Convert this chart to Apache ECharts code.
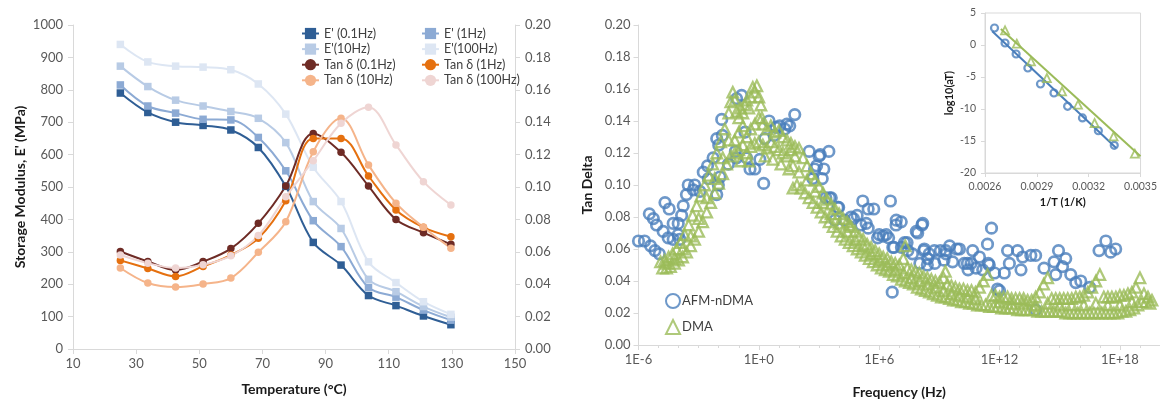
<!DOCTYPE html>
<html><head><meta charset="utf-8">
<script src="https://cdn.jsdelivr.net/npm/echarts@6/dist/echarts.min.js"></script>
<style>html,body{margin:0;padding:0;background:#fff}#c{width:1160px;height:404px}</style>
</head><body><div id="c"></div>
<script>
// ---------- Left chart: temperature sweep ----------
const temps = [25, 33.7, 42.5, 51.2, 60, 68.7, 77.4, 86.1, 94.9, 103.6, 112.3, 121, 129.7];
const ePrime01  = [790, 730, 700, 690, 676, 622, 502, 329, 259, 165, 134, 102, 75];
const ePrime1   = [815, 750, 728, 709, 707, 653, 550, 396, 316, 190, 160, 120, 89];
const ePrime10  = [873, 810, 768, 750, 733, 712, 637, 455, 372, 215, 177, 131, 98];
const ePrime100 = [940, 886, 873, 870, 862, 818, 725, 561, 455, 269, 205, 146, 107];
const tanD01  = [0.0602, 0.054, 0.0488, 0.054, 0.062, 0.0776, 0.1006, 0.1331, 0.1214, 0.1006, 0.080, 0.0718, 0.0646];
const tanD1   = [0.0547, 0.0497, 0.0448, 0.051, 0.058, 0.0683, 0.0915, 0.130, 0.130, 0.1068, 0.0858, 0.0751, 0.0693];
const tanD10  = [0.050, 0.0407, 0.0382, 0.0401, 0.0438, 0.0597, 0.0786, 0.1218, 0.1424, 0.1136, 0.090, 0.0751, 0.0622];
const tanD100 = [0.058, 0.053, 0.050, 0.052, 0.0575, 0.070, 0.094, 0.1162, 0.1393, 0.1492, 0.126, 0.1033, 0.0889];
const tempTicks = [10, 150, 20];

// ---------- Right chart: master curve, [log10(frequency / Hz), tan delta] ----------
const afmPoints = [
 [-6.0,0.065],[-5.7,0.065],[-5.4,0.062],[-5.18,0.059],[-4.96,0.057],
 [-5.46,0.082],[-5.26,0.079],[-5.1,0.075],[-4.77,0.071],[-4.68,0.089],[-4.47,0.085],[-4.27,0.076],
 [-4.52,0.067],[-4.27,0.066],[-4.02,0.069],[-3.94,0.066],[-4.02,0.076],[-3.85,0.081],[-3.77,0.087],
 [-3.61,0.094],[-3.52,0.1],[-3.27,0.097],[-3.2,0.1],[-2.94,0.096],[-2.77,0.108],[-2.52,0.104],[-2.56,0.112],
 [-2.28,0.117],[-2.1,0.094],[-2.02,0.1],[-1.94,0.105],[-2.0,0.125],[-2.1,0.129],[-1.82,0.131],[-1.85,0.141],
 [-1.52,0.113],[-1.17,0.121],[-1.11,0.117],[-0.61,0.117],[-0.44,0.11],[-0.2,0.11],[0.05,0.116],[0.24,0.101],
 [-0.86,0.156],[-1.11,0.154],[-0.69,0.133],[0.3,0.129],[0.51,0.14],[0.76,0.131],[0.85,0.136],[1.04,0.137],
 [1.29,0.135],[1.4,0.138],[1.54,0.137],[1.79,0.144],
 [2.51,0.121],[3.0,0.118],[3.06,0.119],[3.49,0.121],[2.88,0.112],[3.24,0.11],[2.78,0.11],[3.16,0.104],
 [2.69,0.104],[3.34,0.092],[3.61,0.092],[3.53,0.092],[3.94,0.086],[3.98,0.086],[3.8,0.078],[4.26,0.078],
 [4.6,0.08],[4.72,0.079],[4.9,0.081],[5.18,0.09],[5.45,0.085],[5.73,0.085],[5.09,0.075],[5.35,0.076],
 [5.45,0.073],[5.92,0.067],[6.0,0.069],[6.2,0.068],[6.35,0.069],[6.47,0.067],[6.56,0.09],[6.84,0.075],
 [6.85,0.078],[7.1,0.077],[6.74,0.061],[6.68,0.061],[7.11,0.061],[7.26,0.064],[7.39,0.064],[7.43,0.059],
 [7.85,0.071],[7.92,0.07],[8.13,0.075],[8.17,0.076],[7.66,0.057],[8.22,0.059],[8.25,0.06],[8.49,0.057],
 [8.75,0.059],[9.05,0.059],[9.32,0.059],[9.33,0.057],[9.51,0.062],[9.87,0.06],[8.77,0.051],[9.23,0.053],
 [8.42,0.054],[8.4,0.05],[8.03,0.051],[9.66,0.052],[6.65,0.033],
 [10.0,0.06],[10.66,0.059],[10.58,0.051],[10.24,0.051],[10.4,0.051],[10.43,0.047],[10.83,0.048],[11.0,0.055],
 [11.16,0.047],[11.4,0.063],[11.6,0.073],[11.44,0.051],[11.49,0.05],[11.75,0.045],[11.9,0.035],[12.0,0.034],
 [12.24,0.045],[12.4,0.059],[12.49,0.051],[12.9,0.059],[13.07,0.047],[13.15,0.055],[13.56,0.056],[13.8,0.056],
 [13.8,0.022],[14.22,0.048],[14.72,0.052],[14.8,0.044],[14.94,0.059],[15.14,0.049],[15.3,0.054],[15.55,0.044],
 [15.8,0.039],[16.05,0.04],[16.5,0.036],[16.96,0.059],[17.3,0.065],[17.54,0.058],[17.79,0.06]
];
const dmaPoints = [
 // rising limb
 [-4.9,0.052],[-4.7,0.053],[-4.5,0.055],[-4.3,0.057],[-4.1,0.06],[-3.9,0.064],[-3.7,0.069],[-3.5,0.075],
 [-3.3,0.081],[-3.1,0.087],[-2.9,0.093],[-2.7,0.1],[-2.5,0.106],[-2.3,0.113],[-2.1,0.12],[-1.9,0.127],
 [-1.7,0.135],[-1.5,0.145],
 [-4.8,0.048],[-4.6,0.048],[-4.4,0.049],[-4.2,0.051],[-4.0,0.053],[-3.8,0.055],[-3.6,0.058],[-3.4,0.062],
 [-3.2,0.066],[-3.0,0.071],[-2.8,0.077],[-2.6,0.083],[-2.4,0.089],[-2.2,0.095],[-2.0,0.101],[-1.8,0.107],
 [-1.6,0.113],[-1.4,0.118],
 [-4.6,0.051],[-4.2,0.054],[-3.8,0.06],[-3.4,0.068],[-3.0,0.079],[-2.6,0.092],[-2.2,0.104],[-1.8,0.117],[-1.5,0.128],
 // peak
 [-1.4,0.152],[-1.3,0.158],[-1.2,0.153],[-1.1,0.146],[-1.0,0.142],[-0.9,0.148],[-0.8,0.145],[-0.7,0.15],
 [-0.6,0.153],[-0.5,0.148],[-0.4,0.155],[-0.3,0.161],[-0.2,0.158],[-0.1,0.162],[0.0,0.155],[0.1,0.15],[0.15,0.142],
 [-1.2,0.128],[-1.0,0.133],[-0.8,0.137],[-0.6,0.13],[-0.4,0.135],[-0.2,0.138],[0.0,0.142],[0.2,0.138],
 [0.4,0.135],[0.6,0.137],[0.8,0.133],[1.0,0.134],[1.2,0.13],[1.4,0.128],
 [-1.2,0.12],[-1.0,0.122],[-0.8,0.125],[-0.6,0.12],[-0.4,0.124],[-0.2,0.126],[0.0,0.127],[0.2,0.125],
 [0.4,0.123],[0.6,0.127],[0.8,0.124],[1.0,0.122],[1.2,0.12],[1.4,0.118],[1.6,0.122],[1.8,0.118],
 [-0.9,0.115],[-0.5,0.115],[0.3,0.118],[0.7,0.116],[1.1,0.113],[1.5,0.11],[1.7,0.112],
 // descending limb
 [1.6,0.126],[1.8,0.124],[2.0,0.123],[2.2,0.117],[2.4,0.112],[2.6,0.107],[2.8,0.103],[3.0,0.099],
 [3.2,0.095],[3.4,0.091],[3.6,0.088],[3.8,0.085],[4.0,0.082],[4.2,0.079],[4.4,0.077],[4.5,0.075],
 [4.6,0.074],[4.8,0.071],[5.0,0.068],[5.2,0.066],[5.4,0.063],[5.6,0.061],[5.8,0.059],[6.0,0.057],
 [6.2,0.055],[6.4,0.054],[6.6,0.052],[6.8,0.051],[7.0,0.05],[7.2,0.054],[7.3,0.062],[7.4,0.048],
 [7.6,0.047],[7.8,0.046],[8.0,0.045],[8.2,0.043],[8.4,0.042],[8.6,0.041],[8.8,0.04],[9.0,0.039],
 [9.2,0.042],[9.3,0.046],[9.4,0.038],[9.6,0.037],[9.8,0.036],[10.0,0.035],[10.2,0.035],[10.4,0.034],
 [10.6,0.034],[10.8,0.033],[11.0,0.036],[11.2,0.04],[11.4,0.044],
 [1.7,0.098],[1.9,0.1],[2.1,0.098],[2.3,0.095],[2.5,0.092],[2.7,0.089],[2.9,0.086],[3.1,0.083],
 [3.3,0.08],[3.5,0.077],[3.7,0.074],[3.9,0.071],[4.1,0.068],[4.3,0.066],[4.5,0.064],[4.7,0.062],
 [4.9,0.06],[5.1,0.058],[5.3,0.056],[5.5,0.054],[5.7,0.052],[5.9,0.05],[6.1,0.048],[6.3,0.047],
 [6.5,0.046],[6.7,0.044],[6.9,0.043],[7.1,0.041],[7.3,0.04],[7.5,0.039],[7.7,0.038],[7.9,0.036],
 [8.1,0.035],[8.3,0.034],[8.5,0.033],[8.7,0.032],[8.9,0.031],[9.1,0.03],[9.3,0.03],[9.5,0.029],
 [9.7,0.028],[9.9,0.028],[10.1,0.027],[10.3,0.027],[10.5,0.026],[10.7,0.026],[10.9,0.025],
 [2.0,0.108],[2.4,0.103],[2.8,0.096],[3.2,0.089],[3.6,0.082],[4.0,0.076],[4.4,0.071],[4.8,0.066],
 [5.2,0.062],[5.6,0.057],[6.0,0.053],[6.4,0.05],[6.8,0.047],[7.2,0.045],[7.6,0.042],[8.0,0.04],
 [8.4,0.038],[8.8,0.036],[9.2,0.034],[9.6,0.032],[10.0,0.031],[10.4,0.03],[10.8,0.029],
 // high-frequency tail
 [11.6,0.031],[11.8,0.031],[12.0,0.03],[12.2,0.03],[12.4,0.03],[12.6,0.029],[12.8,0.029],[13.0,0.029],
 [13.2,0.029],[13.4,0.028],[13.6,0.028],[13.8,0.03],[14.0,0.033],[14.2,0.038],[14.4,0.042],[14.6,0.029],
 [14.8,0.029],[15.0,0.029],[15.2,0.029],[15.4,0.029],[15.6,0.029],[15.8,0.03],[16.0,0.03],[16.2,0.031],
 [16.4,0.033],[16.6,0.036],[16.8,0.04],[17.0,0.044],[17.2,0.03],[17.4,0.03],[17.6,0.03],[17.8,0.03],
 [18.0,0.031],[18.2,0.031],[18.4,0.032],[18.6,0.033],[18.8,0.036],[19.0,0.042],[19.2,0.032],[19.4,0.03],[19.6,0.028],
 [11.1,0.025],[11.3,0.025],[11.5,0.024],[11.7,0.024],[11.9,0.024],[12.1,0.023],[12.3,0.023],[12.5,0.023],
 [12.7,0.023],[12.9,0.022],[13.1,0.022],[13.3,0.022],[13.5,0.022],[13.7,0.022],[13.9,0.021],[14.1,0.021],
 [14.3,0.021],[14.5,0.021],[14.7,0.021],[14.9,0.021],[15.1,0.021],[15.3,0.02],[15.5,0.02],[15.7,0.02],
 [15.9,0.02],[16.1,0.02],[16.3,0.02],[16.5,0.02],[16.7,0.02],[16.9,0.02],[17.1,0.02],[17.3,0.02],
 [17.5,0.02],[17.7,0.02],[17.9,0.02],[18.1,0.021],[18.3,0.021],[18.5,0.022],[18.7,0.023],[18.9,0.025],
 [19.1,0.027],[19.3,0.027],[19.5,0.026],
 [12.0,0.027],[12.6,0.026],[13.2,0.026],[13.8,0.025],[14.4,0.026],[15.0,0.025],[15.6,0.025],[16.2,0.025],
 [16.8,0.026],[17.4,0.025],[18.0,0.025],[18.6,0.027]
];
const freqExpTicks = [-6, 20, 6];

// ---------- Inset: shift factors ----------
const invTAfm = [0.002655, 0.002716, 0.00278, 0.002848, 0.002921, 0.002999, 0.003078, 0.003164, 0.003256, 0.003348];
const logAtAfm = [2.66, 0.31, -1.41, -3.59, -6.09, -7.5, -9.58, -11.4, -13.4, -15.68];
const invTDma = [0.002716, 0.002784, 0.002866, 0.002958, 0.003046, 0.003138, 0.003234, 0.003344, 0.003467];
const logAtDma = [2.29, 0.21, -2.55, -5.16, -7.24, -9.32, -12.19, -14.27, -16.98];
const fitAfm = [[0.002642, 2.14], [0.003359, -16.1]];
const fitDma = [[0.002692, 2.5], [0.0035, -17.4]];

const FONT = 'Lato, "Open Sans", sans-serif';
const AX = '#d9d9d9';
const LBL = '#595959';
const BLUE = '#4a7ebb';
const GREEN = '#9bbb59';
const CLEAR = 'rgba(255,255,255,0)';

function axisBase(extra) {
  return Object.assign({
    axisLine: {show: true, onZero: false, lineStyle: {color: AX, width: 1}},
    axisTick: {show: true, length: 5, lineStyle: {color: AX}},
    splitLine: {show: false},
    axisLabel: {color: LBL, fontSize: 13, fontFamily: FONT},
    nameTextStyle: {color: '#1a1a1a', fontSize: 14, fontWeight: 'bold', fontFamily: FONT}
  }, extra);
}

const leftLine = (name, data, yIdx, symbol, color) => ({
  name, type: 'line', xAxisIndex: 0, yAxisIndex: yIdx,
  data: temps.map((t, i) => [t, data[i]]),
  smooth: 0.35, symbol, symbolSize: 7.5,
  lineStyle: {width: 2, color}, itemStyle: {color}
});

const option = {
  animation: false,
  backgroundColor: '#fff',
  grid: [
    {left: 73, top: 25, width: 442, height: 324},
    {left: 638.5, top: 25, width: 523, height: 324},
    {left: 985, top: 13, width: 163, height: 160, show: true, borderColor: AX, borderWidth: 1, backgroundColor: '#fff'}
  ],
  xAxis: [
    axisBase({gridIndex: 0, type: 'value', min: tempTicks[0], max: tempTicks[1], interval: tempTicks[2],
      name: 'Temperature (°C)', nameLocation: 'middle', nameGap: 33,
      axisLabel: {color: LBL, fontSize: 13, fontFamily: FONT, margin: 8}}),
    axisBase({gridIndex: 1, type: 'value', min: freqExpTicks[0], max: freqExpTicks[1], interval: freqExpTicks[2],
      name: 'Frequency (Hz)', nameLocation: 'middle', nameGap: 40,
      minorTick: {show: true, splitNumber: 6, length: 3, lineStyle: {color: AX}},
      axisLabel: {color: LBL, fontSize: 13, fontFamily: FONT, margin: 8, showMaxLabel: false,
        formatter: v => (v > 18 ? '' : '1E' + (v < 0 ? '-' : '+') + Math.abs(v))}}),
    axisBase({gridIndex: 2, type: 'value', min: 0.0026, max: 0.0035, interval: 0.0003,
      name: '1/T (1/K)', nameLocation: 'middle', nameGap: 24,
      nameTextStyle: {color: '#1a1a1a', fontSize: 11, fontWeight: 'bold', fontFamily: FONT},
      axisTick: {show: true, length: 4, lineStyle: {color: AX}},
      axisLabel: {color: LBL, fontSize: 10.5, fontFamily: FONT, margin: 8, showMaxLabel: true,
        formatter: v => v.toFixed(4)}})
  ],
  yAxis: [
    axisBase({gridIndex: 0, type: 'value', min: 0, max: 1000, interval: 100, position: 'left',
      name: "Storage Modulus, E' (MPa)", nameLocation: 'middle', nameGap: 46,
      axisLabel: {color: LBL, fontSize: 13, fontFamily: FONT, margin: 10, formatter: v => String(v)}}),
    axisBase({gridIndex: 0, type: 'value', min: 0, max: 0.2, interval: 0.02, position: 'right',
      axisLabel: {color: LBL, fontSize: 13, fontFamily: FONT, margin: 10, formatter: v => v.toFixed(2)}}),
    axisBase({gridIndex: 1, type: 'value', min: 0, max: 0.2, interval: 0.02,
      name: 'Tan Delta', nameLocation: 'middle', nameGap: 44,
      axisLabel: {color: LBL, fontSize: 13, fontFamily: FONT, margin: 8, formatter: v => v.toFixed(2)}}),
    axisBase({gridIndex: 2, type: 'value', min: -20, max: 5, interval: 5,
      name: 'log10(aT)', nameLocation: 'middle', nameGap: 30,
      nameTextStyle: {color: '#1a1a1a', fontSize: 11, fontWeight: 'bold', fontFamily: FONT},
      axisTick: {show: true, length: 4, lineStyle: {color: AX}},
      axisLabel: {color: LBL, fontSize: 10.5, fontFamily: FONT, margin: 9}})
  ],
  legend: [
    {data: ["E' (0.1Hz)", "E'(10Hz)", 'Tan δ (0.1Hz)', 'Tan δ (10Hz)'], orient: 'vertical',
      left: 296, top: 22, itemWidth: 17, itemHeight: 14, itemGap: 2.6,
      textStyle: {fontSize: 12.5, color: '#404040', fontFamily: FONT}},
    {data: ["E' (1Hz)", "E'(100Hz)", 'Tan δ (1Hz)', 'Tan δ (100Hz)'], orient: 'vertical',
      left: 416, top: 22, itemWidth: 17, itemHeight: 14, itemGap: 2.6,
      textStyle: {fontSize: 12.5, color: '#404040', fontFamily: FONT}},
    {data: ['AFM-nDMA', 'DMA'], orient: 'vertical', left: 660, top: 288, itemWidth: 14, itemHeight: 14, itemGap: 10,
      textStyle: {fontSize: 13, color: '#404040', fontFamily: FONT, padding: [0, 0, 0, -3]}}
  ],
  series: [
    leftLine("E' (0.1Hz)", ePrime01, 0, 'rect', '#2f5e95'),
    leftLine("E' (1Hz)", ePrime1, 0, 'rect', '#8caad4'),
    leftLine("E'(10Hz)", ePrime10, 0, 'rect', '#b8cbe5'),
    leftLine("E'(100Hz)", ePrime100, 0, 'rect', '#dde6f3'),
    leftLine('Tan δ (0.1Hz)', tanD01, 1, 'circle', '#6e2b25'),
    leftLine('Tan δ (1Hz)', tanD1, 1, 'circle', '#e5700f'),
    leftLine('Tan δ (10Hz)', tanD10, 1, 'circle', '#f5b48a'),
    leftLine('Tan δ (100Hz)', tanD100, 1, 'circle', '#efd5d3'),
    {name: 'AFM-nDMA', type: 'scatter', xAxisIndex: 1, yAxisIndex: 2, data: afmPoints,
      symbol: 'circle', symbolSize: 10.5, itemStyle: {color: CLEAR, borderColor: BLUE, borderWidth: 2.7}},
    {name: 'DMA', type: 'scatter', xAxisIndex: 1, yAxisIndex: 2, data: dmaPoints,
      symbol: 'triangle', symbolSize: 10.5, itemStyle: {color: CLEAR, borderColor: GREEN, borderWidth: 2.3}},
    {name: 'AFM fit', type: 'line', xAxisIndex: 2, yAxisIndex: 3, data: fitAfm, showSymbol: false,
      lineStyle: {color: BLUE, width: 2}, z: 3},
    {name: 'DMA fit', type: 'line', xAxisIndex: 2, yAxisIndex: 3, data: fitDma, showSymbol: false,
      lineStyle: {color: GREEN, width: 2}, z: 3},
    {name: 'AFM shift', type: 'scatter', xAxisIndex: 2, yAxisIndex: 3,
      data: invTAfm.map((x, i) => [x, logAtAfm[i]]),
      symbol: 'circle', symbolSize: 7, itemStyle: {color: CLEAR, borderColor: BLUE, borderWidth: 2.2}, z: 4},
    {name: 'DMA shift', type: 'scatter', xAxisIndex: 2, yAxisIndex: 3,
      data: invTDma.map((x, i) => [x, logAtDma[i]]),
      symbol: 'triangle', symbolSize: 8, itemStyle: {color: CLEAR, borderColor: GREEN, borderWidth: 1.8}, z: 4}
  ]
};
const chart = echarts.init(document.getElementById('c'), null, {renderer: 'canvas'});
chart.setOption(option);
</script></body></html>
